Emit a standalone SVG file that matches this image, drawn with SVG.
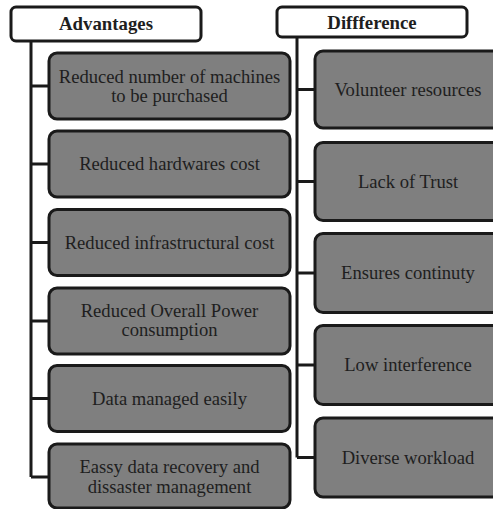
<svg xmlns="http://www.w3.org/2000/svg" width="493" height="509" viewBox="0 0 493 509">
<style>
.hdr{fill:#ffffff;stroke:#1a1a1a;stroke-width:3}
.box{fill:#7f7f7f;stroke:#1a1a1a;stroke-width:3}
.ht{font-family:'Liberation Serif','DejaVu Serif',serif;font-weight:bold;font-size:18.8px;fill:#1e1e1e;text-anchor:middle}
.bt{font-family:'Liberation Serif','DejaVu Serif',serif;font-size:18.6px;fill:#1e1e1e;text-anchor:middle}
.ln{fill:none;stroke:#1a1a1a;stroke-width:3}
</style>
<rect width="493" height="509" fill="#ffffff"/>
<g id="connectors">
<path class="ln" d="M31,41 V477 M31,86 H49 M31,164 H49 M31,242.5 H49 M31,321 H49 M31,398.5 H49 M31,477 H49"/>
<path class="ln" d="M297,37 V457.5 M297,89.5 H315 M297,181.5 H315 M297,273 H315 M297,365 H315 M297,457.5 H315"/>
</g>
<g id="advantages">
<rect class="hdr" x="11" y="7" width="190" height="34" rx="5"/>
<text class="ht" x="106" y="30">Advantages</text>
</g>
<g id="a1">
<rect class="box" x="49" y="53" width="241" height="66" rx="8"/>
<text class="bt" x="169.5" y="83">Reduced number of machines</text>
<text class="bt" x="169.5" y="102">to be purchased</text>
</g>
<g id="a2">
<rect class="box" x="49" y="131" width="241" height="66" rx="8"/>
<text class="bt" x="169.5" y="170">Reduced hardwares cost</text>
</g>
<g id="a3">
<rect class="box" x="49" y="209.5" width="241" height="66" rx="8"/>
<text class="bt" x="169.5" y="248.5">Reduced infrastructural cost</text>
</g>
<g id="a4">
<rect class="box" x="49" y="288" width="241" height="66" rx="8"/>
<text class="bt" x="169.5" y="317">Reduced Overall Power</text>
<text class="bt" x="169.5" y="336">consumption</text>
</g>
<g id="a5">
<rect class="box" x="49" y="365.5" width="241" height="66" rx="8"/>
<text class="bt" x="169.5" y="404.5">Data managed easily</text>
</g>
<g id="a6">
<rect class="box" x="49" y="444" width="241" height="64" rx="8"/>
<text class="bt" x="169.5" y="473">Eassy data recovery and</text>
<text class="bt" x="169.5" y="493">dissaster management</text>
</g>
<g id="difference">
<rect class="hdr" x="277" y="7" width="190" height="30" rx="5"/>
<text class="ht" x="372" y="28.5">Diffference</text>
</g>
<g id="d1">
<rect class="box" x="315" y="51" width="186" height="77" rx="8"/>
<text class="bt" x="408" y="95.5">Volunteer resources</text>
</g>
<g id="d2">
<rect class="box" x="315" y="142.5" width="186" height="78" rx="8"/>
<text class="bt" x="408" y="187.5">Lack of Trust</text>
</g>
<g id="d3">
<rect class="box" x="315" y="233.5" width="186" height="79" rx="8"/>
<text class="bt" x="408" y="279">Ensures continuty</text>
</g>
<g id="d4">
<rect class="box" x="315" y="325.5" width="186" height="79" rx="8"/>
<text class="bt" x="408" y="371">Low interference</text>
</g>
<g id="d5">
<rect class="box" x="315" y="418" width="186" height="79" rx="8"/>
<text class="bt" x="408" y="463.5">Diverse workload</text>
</g>
</svg>
